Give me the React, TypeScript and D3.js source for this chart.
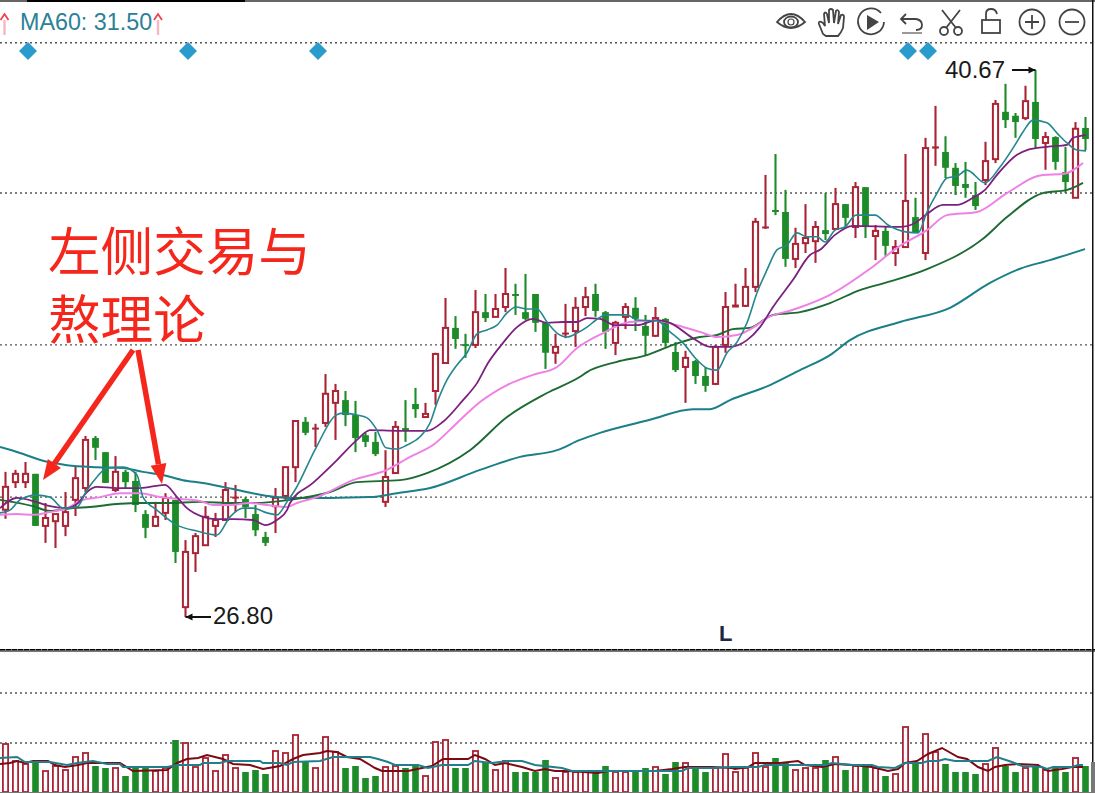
import React from "react";
import * as d3 from "d3";

const highs = [30.48,30.53,30.73,30.43,29.69,29.41,29.97,30.63,31.39,31.39,
30.98,30.88,30.53,30.48,29.51,29.72,29.94,29.77,28.75,28.93,
29.61,29.44,30.22,30.15,29.84,29.64,28.96,30.07,30.60,31.77,
31.87,31.70,32.96,32.71,32.53,32.28,31.47,31.49,31.03,31.77,
32.30,32.61,32.23,33.50,34.89,34.43,33.98,35.09,34.99,34.99,
35.65,35.25,35.50,34.99,34.26,33.98,34.74,34.91,35.17,35.25,
34.56,34.31,34.76,34.91,34.46,34.66,34.38,33.77,33.55,33.32,
33.14,33.70,35.04,35.25,35.65,36.92,38.01,38.54,37.63,36.67,
37.27,36.84,37.55,37.68,37.27,37.83,37.70,36.74,36.69,36.36,
38.54,37.43,38.95,39.76,38.99,38.31,38.34,37.83,38.85,39.91,
40.32,39.58,40.27,40.67,39.10,38.99,38.72,39.35,39.48];
const lows = [29.29,30.07,30.07,29.11,28.68,28.55,28.85,29.36,29.97,30.78,
30.20,29.97,30.07,29.46,28.80,29.08,29.26,28.17,26.80,27.94,
28.62,28.83,29.26,29.46,29.31,28.85,28.60,28.93,29.77,30.22,
31.41,31.11,31.62,31.29,31.64,30.98,31.11,30.88,29.59,30.45,
31.24,31.85,31.87,32.18,33.24,33.60,33.37,33.62,34.28,34.41,
34.53,34.46,34.33,34.03,33.09,33.22,33.87,33.65,34.43,34.41,
33.60,33.44,34.10,34.05,33.42,33.90,33.65,33.01,32.23,32.71,
32.51,32.68,33.50,34.66,34.66,35.04,36.64,36.99,35.68,35.65,
36.03,35.78,36.36,36.64,36.69,36.41,36.41,35.85,35.96,35.70,
36.18,36.54,35.85,38.24,37.93,37.50,37.43,37.12,37.75,38.31,
39.20,38.95,39.40,38.69,38.14,38.14,37.55,37.43,38.64];
const opens = [29.52,30.22,30.22,30.43,29.11,29.23,29.11,29.77,30.07,31.34,
30.98,30.02,30.48,30.25,29.41,29.11,29.44,29.77,27.05,28.42,
28.62,29.11,29.26,29.82,29.79,29.41,28.83,29.61,29.87,30.60,
31.75,31.57,31.72,32.23,32.30,31.92,31.41,31.24,29.72,30.45,
31.59,32.20,31.87,32.53,33.24,34.13,33.72,33.70,34.53,34.41,
34.66,34.99,34.53,34.99,34.26,33.50,33.98,34.05,34.66,34.99,
34.53,33.75,34.41,34.64,34.18,33.93,34.36,33.52,33.14,33.29,
32.91,32.71,33.70,34.66,34.69,35.17,36.67,37.12,37.07,35.88,
36.28,36.33,36.61,36.64,37.27,36.69,37.70,36.46,36.59,36.03,
36.18,36.94,36.03,38.69,38.59,38.19,37.78,37.50,37.88,38.41,
39.61,39.51,39.45,39.86,38.82,38.97,38.08,37.43,39.20];
const closes = [30.10,30.43,30.43,29.11,29.31,29.41,29.46,30.32,31.29,31.09,
30.20,30.48,30.22,29.64,29.06,29.34,29.82,28.45,28.45,28.85,
29.34,29.26,30.02,29.84,29.59,29.00,28.68,29.82,30.60,31.77,
31.47,31.59,32.46,32.53,31.92,31.34,31.24,30.93,30.35,31.62,
31.52,32.07,31.95,33.47,34.13,33.85,33.67,34.53,34.38,34.61,
34.99,34.97,34.36,34.26,33.50,33.65,34.00,34.64,34.91,34.56,
34.03,34.26,34.66,34.36,33.93,34.38,33.75,33.06,33.37,32.91,
32.66,33.65,34.66,34.71,35.17,36.82,36.69,37.07,35.88,36.26,
36.41,36.69,36.51,37.27,36.92,37.70,36.71,36.59,36.21,36.18,
37.35,36.54,38.69,38.72,38.19,37.73,37.68,37.22,38.36,39.81,
39.40,39.35,39.88,38.92,38.97,38.34,37.83,39.18,38.92];
const volumes = [48,31,28,29,21,26,22,35,39,26,24,24,16,24,24,21,24,52,49,25,
34,21,37,24,20,22,18,41,39,57,30,24,55,40,24,26,14,16,25,26,
24,27,16,50,52,24,24,41,30,22,31,20,20,20,32,14,20,20,20,19,
26,20,20,20,24,25,18,30,29,24,20,24,38,20,24,39,25,34,30,22,
24,24,32,35,22,26,26,24,16,18,65,29,58,40,28,20,20,18,28,44,
26,20,24,26,22,24,20,34,26];

const ma5Bars = [-0.55,0.45,1.45,3.05,4.45,5.75,7.15,8.15,9.15,10.15,11.75,13.15,13.75,15.15,17.15,19.15,21.15,22.45,23.75,24.75,26.15,27.15,28.15,28.95,31.05,33.05,33.75,35.15,36.15,37.15,38.05,39.15,40.15,41.45,42.45,43.15,44.15,45.15,46.15,47.15,48.15,49.15,50.15,51.05,52.15,53.15,54.15,55.15,56.15,57.15,58.15,59.05,60.05,62.15,63.15,65.15,66.45,67.75,69.15,70.15,71.15,72.15,73.15,74.15,75.15,76.15,77.15,78.15,79.15,80.15,81.15,81.95,82.95,83.95,85.05,86.95,88.25,90.15,91.25,92.15,93.15,94.15,95.15,96.15,97.95,99.45,100.95,101.75,102.75,104.15,105.15,106.15,107.15,108.05];
const ma5Values = [29.44,29.51,29.77,29.89,29.84,29.56,29.59,30.02,30.35,30.58,30.60,30.40,29.84,29.51,29.13,28.98,28.88,29.34,29.56,29.56,29.44,29.39,29.72,30.02,31.09,31.92,31.97,31.92,31.85,31.54,31.09,31.06,31.16,31.37,31.72,32.23,32.81,33.19,33.50,33.98,34.08,34.20,34.51,34.66,34.61,34.61,34.28,34.00,33.90,34.00,34.15,34.33,34.46,34.46,34.33,34.31,34.03,33.75,33.32,33.11,33.06,33.50,33.77,34.26,35.02,35.60,36.11,36.23,36.54,36.44,36.44,36.31,36.61,36.69,36.99,36.99,36.74,36.56,36.54,37.07,37.55,37.93,37.98,38.13,37.81,38.21,38.77,39.10,39.40,39.33,39.07,38.82,38.64,38.62];

const ma10Bars = [-0.55,1.15,3.05,4.45,6.15,7.25,8.15,9.15,11.15,13.45,15.95,17.15,18.15,19.75,21.15,22.75,24.75,25.95,27.15,28.15,28.45,30.75,33.15,35.15,36.45,39.15,42.15,43.75,45.75,47.15,48.25,49.75,51.15,52.75,54.15,55.75,57.15,58.15,59.45,60.95,63.15,65.15,66.45,68.75,70.45,72.45,74.15,75.45,76.75,78.75,80.45,81.45,82.95,84.75,89.45,90.95,92.15,93.75,95.15,96.75,97.95,99.15,101.15,102.15,104.15,106.15,106.75,108.05];
const ma10Values = [29.56,29.82,29.72,29.61,29.56,29.69,29.97,30.10,30.07,30.07,30.15,29.84,29.56,29.34,29.28,29.28,29.26,29.13,29.26,29.51,29.69,30.20,30.78,31.29,31.54,31.52,31.52,31.75,32.30,32.73,33.24,33.75,34.15,34.36,34.26,34.28,34.28,34.38,34.36,34.20,34.20,34.33,34.26,33.87,33.65,33.65,33.82,34.15,34.66,35.35,35.98,36.11,36.49,36.72,36.69,36.79,37.02,37.25,37.25,37.43,37.63,38.01,38.52,38.64,38.72,38.77,38.95,39.02];

const ma20Bars = [-0.55,1.15,2.75,4.45,6.15,7.75,9.45,11.45,13.45,15.45,17.45,19.45,20.75,22.45,24.45,26.15,28.15,29.15,31.15,34.75,38.15,40.45,42.75,45.15,47.45,50.15,52.75,55.15,57.15,59.75,62.45,65.15,67.15,69.45,71.15,73.15,75.15,76.15,78.75,82.45,86.45,89.15,92.15,94.15,97.15,100.15,103.75,105.75,107.75];
const ma20Values = [29.39,29.41,29.39,29.46,29.56,29.77,29.84,29.94,29.94,29.84,29.79,29.74,29.64,29.64,29.69,29.64,29.59,29.69,29.84,30.27,30.53,30.86,31.16,31.72,32.25,32.68,32.94,33.14,33.62,34.00,34.28,34.31,34.20,34.03,33.90,33.95,34.20,34.38,34.59,34.97,35.63,36.16,36.61,36.99,37.07,37.55,38.01,38.03,38.31];

const ma30Bars = [-0.55,2.75,4.45,6.75,8.45,11.45,13.45,16.15,19.45,22.75,24.75,28.45,32.45,35.15,39.45,42.15,46.45,50.15,54.15,57.45,58.15,61.15,64.15,66.75,69.45,71.15,72.75,74.45,76.75,79.45,82.45,85.45,87.95,92.15,97.75,100.15,103.75,106.15,107.75];
const ma30Values = [29.77,29.61,29.49,29.56,29.59,29.67,29.69,29.69,29.72,29.69,29.69,29.77,29.97,30.22,30.27,30.45,31.03,31.87,32.48,32.89,33.01,33.27,33.44,33.70,33.90,33.95,34.10,34.13,34.46,34.53,34.76,35.09,35.27,35.62,36.39,36.94,37.55,37.63,37.81];

const ma60Bars = [-0.55,1.45,3.75,6.15,9.15,11.75,13.75,15.75,17.75,19.75,21.75,23.75,26.15,28.15,32.45,36.45,39.15,42.45,47.45,51.45,55.15,57.45,59.45,64.45,68.75,70.45,72.45,76.45,79.45,82.45,84.45,89.45,94.45,98.45,101.45,104.45,107.95];
const ma60Values = [31.11,30.96,30.76,30.65,30.60,30.58,30.48,30.40,30.27,30.20,30.10,29.99,29.87,29.82,29.82,29.84,29.94,30.07,30.53,30.86,31.03,31.29,31.47,31.80,32.07,32.07,32.30,32.68,33.06,33.44,33.82,34.28,34.64,35.27,35.63,35.85,36.13];

const volFastBars = [-0.55,0.45,1.15,1.95,2.75,4.25,4.95,5.95,7.25,8.15,9.75,11.45,12.75,16.15,17.15,18.15,19.25,20.15,21.75,22.75,24.45,25.75,27.45,28.75,29.75,31.45,32.15,33.15,34.15,35.45,36.45,36.95,37.65,40.25,41.65,42.65,43.75,46.25,46.95,47.95,48.95,49.95,51.65,52.95,53.95,54.95,56.25,59.25,60.25,64.95,66.65,67.95,69.25,70.65,72.65,72.95,74.25,74.95,77.45,79.25,79.95,81.65,82.95,84.65,86.65,88.25,89.25,89.95,91.15,92.25,93.65,95.25,96.15,97.25,98.25,98.95,99.95,101.25,103.25,104.25,105.65,106.65,107.75];
const volFastValues = [28,29,31,29,31,31,27,25,27,29,29,29,21,22,29,33,34,37,33,28,27,23,26,33,37,39,41,40,35,33,27,24,21,21,24,26,33,33,37,33,27,29,25,21,23,21,21,19,21,21,23,25,25,25,24,23,25,29,29,31,27,25,28,27,25,21,23,29,31,38,44,35,33,25,21,25,27,28,27,21,23,25,25];
const volSlowBars = [-0.55,1.15,1.95,4.45,6.15,7.15,8.75,10.15,11.45,11.75,16.15,17.15,19.45,19.75,21.45,22.15,25.45,25.75,27.45,28.15,28.75,31.45,32.75,36.45,37.25,38.25,38.95,41.25,42.25,43.65,46.25,46.95,48.65,50.25,51.65,52.95,55.65,56.65,64.65,67.65,68.25,70.65,72.65,75.25,75.95,81.95,82.65,84.65,86.65,87.25,88.95,89.95,91.65,92.25,93.25,93.95,94.95,98.25,99.15,100.65,101.65,103.65,104.15,104.75,106.65,107.25,107.75];
const volSlowValues = [34,35,30,30,27,29,31,28,28,25,25,27,27,29,29,31,31,29,29,27,30,31,35,35,33,30,27,27,24,27,27,31,29,31,31,27,24,21,21,21,24,24,25,25,27,27,29,27,27,25,24,29,29,31,31,33,31,31,35,30,26,25,23,25,25,27,27];

const priceTicks = [41.36, 37.55, 33.7, 29.84];
const volumeTicks = [99, 49];
const signalBars = [2.25, 18.25, 31.25, 90.25, 92.25];
const highLabel = "40.67";
const lowLabel = "26.80";
const legendLabel = "MA60: 31.50";
const noteLines = ["左侧交易与", "熬理论"];

const RED = "#ab2436";
const GREEN = "#1d8c28";
const ICON = "#444";
const SANS = "'Liberation Sans', Arial, sans-serif";

const x = d3.scaleLinear().domain([0, 108]).range([5.5, 1085.5]);
const y = d3.scaleLinear().domain([26.8, 40.67]).range([617, 70]);
const vy = d3.scaleLinear().domain([0, 100]).range([792, 692]);

function maPath(bars: number[], values: number[], scale: (v: number) => number, smooth = false) {
  const gen = d3.line<number>().x((_, i) => x(bars[i])).y((v) => scale(v));
  if (smooth) gen.curve(d3.curveMonotoneX);
  return gen(values) || "";
}

const priceLines = [
  { bars: ma60Bars, values: ma60Values, color: "#1b7f88", w: 2 },
  { bars: ma30Bars, values: ma30Values, color: "#1c6b32", w: 1.9 },
  { bars: ma20Bars, values: ma20Values, color: "#ee80e6", w: 2 },
  { bars: ma10Bars, values: ma10Values, color: "#7c2080", w: 1.8 },
  { bars: ma5Bars, values: ma5Values, color: "#24868e", w: 1.6 },
];

function UpArrow({ cx }: { cx: number }) {
  return (
    <g>
      <line x1={cx} x2={cx} y1={20} y2={35} stroke="#f8b6bf" strokeWidth={2.4} />
      <path d={`M${cx - 4},20 L${cx},14 L${cx + 4},20`} fill="none" stroke="#f0404c" strokeWidth={1.8} />
    </g>
  );
}

function Toolbar() {
  const s = { fill: "none", stroke: ICON, strokeWidth: 1.8 };
  return (
    <g>
      <g {...s}>
        <path d="M777,22 Q791,6 805,22 Q791,34 777,22 Z" />
        <ellipse cx={791} cy={22} rx={7} ry={5.5} />
        <circle cx={791} cy={22} r={3} strokeWidth={1.2} />
      </g>
      <path {...s} d="M823,34 L819,24 Q818,20 823,23 L825,26 L824,14 Q825,11 827,14 L829,23 L829,10 Q831,8 833,10 L834,23 L836,11 Q838,9 839,12 L838,24 L841,15 Q844,14 844,17 L843,28 Q841,33 838,36 L826,36 Z" />
      <path {...s} d="M881,13 A13,13 0 1 0 884,22" />
      <path fill={ICON} d="M867,15 L879,22 L867,30 Z" />
      <path {...s} d="M906,14 L901,19 L906,24 M901,19 L916,19 Q922,20 922,25 Q922,30 916,30" />
      <rect x={902} y={32} width={20} height={2} fill="#999" />
      <g {...s}>
        <path d="M942,10 L956,28 M960,10 L946,28" />
        <circle cx={944} cy={31} r={4} />
        <circle cx={958} cy={31} r={4} />
      </g>
      <g {...s}>
        <rect x={982} y={20} width={18} height={13} />
        <path d="M986,20 L986,14 Q986,9 991,9 Q996,9 997,14" />
      </g>
      <g {...s}>
        <circle cx={1032} cy={22} r={12.5} />
        <path d="M1025,22 H1039 M1032,15 V29" />
        <circle cx={1072} cy={22} r={12.5} />
        <path d="M1065,22 H1079" />
      </g>
    </g>
  );
}

function BigArrow({ x1, y1, x2, y2 }: { x1: number; y1: number; x2: number; y2: number }) {
  const a = Math.atan2(y2 - y1, x2 - x1);
  const back = 20;
  const bx = x2 - back * Math.cos(a);
  const by = y2 - back * Math.sin(a);
  const nx = -Math.sin(a);
  const ny = Math.cos(a);
  return (
    <g>
      <line x1={x1} y1={y1} x2={bx} y2={by} stroke="#f5261b" strokeWidth={5.5} />
      <path d={`M${x2},${y2} L${bx + nx * 8},${by + ny * 8} L${bx - nx * 8},${by - ny * 8} Z`} fill="#f5261b" />
    </g>
  );
}

export default function App() {
  return (
    <svg width={1095} height={793} viewBox="0 0 1095 793" style={{ position: "absolute", left: 0, top: 0, display: "block", background: "#fff" }}>
      <defs>
        <clipPath id="plot"><rect x={0} y={0} width={1092} height={793} /></clipPath>
      </defs>
      <rect x={0} y={0} width={1095} height={793} fill="#fff" />
      <rect x={0} y={0} width={1095} height={2} fill="#666" />
      <rect x={27} y={0} width={218} height={2} fill="#000" />

      {priceTicks.map((t) => (
        <line key={t} x1={0} x2={1092} y1={y(t)} y2={y(t)} stroke="#555" strokeWidth={1.4} strokeDasharray="2 3" />
      ))}
      {volumeTicks.map((t) => (
        <line key={t} x1={0} x2={1092} y1={vy(t)} y2={vy(t)} stroke="#555" strokeWidth={1.4} strokeDasharray="2 3" />
      ))}

      <g clipPath="url(#plot)">
        {volumes.map((v, i) => {
          const up = closes[i] >= opens[i];
          const top = vy(v);
          return up ? (
            <rect key={i} x={x(i) - 2.6} y={top} width={5.2} height={792 - top} fill="#fff" stroke={RED} strokeWidth={1.8} />
          ) : (
            <rect key={i} x={x(i) - 3.3} y={top} width={6.6} height={792 - top} fill={GREEN} />
          );
        })}
        <path d={maPath(volFastBars, volFastValues, vy)} fill="none" stroke="#7a0a14" strokeWidth={2} />
        <path d={maPath(volSlowBars, volSlowValues, vy)} fill="none" stroke="#1f7f8a" strokeWidth={2} />

        {highs.map((h, i) => {
          const up = closes[i] >= opens[i];
          const color = up ? RED : GREEN;
          const top = y(Math.max(opens[i], closes[i]));
          const bottom = y(Math.min(opens[i], closes[i]));
          const cx = x(i);
          return (
            <g key={i}>
              <line x1={cx} x2={cx} y1={y(h)} y2={y(lows[i])} stroke={color} strokeWidth={2.1} />
              {up ? (
                bottom - top < 3 ? (
                  <rect x={cx - 3.4} y={top - 0.5} width={6.8} height={Math.max(2, bottom - top + 1)} fill={color} />
                ) : (
                  <rect x={cx - 2.6} y={top} width={5.2} height={bottom - top} fill="#fff" stroke={color} strokeWidth={2} />
                )
              ) : (
                <rect x={cx - 3.4} y={top} width={6.8} height={Math.max(2, bottom - top)} fill={color} />
              )}
            </g>
          );
        })}
        {priceLines.map((l) => (
          <path key={l.color} d={maPath(l.bars, l.values, y, true)} fill="none" stroke={l.color} strokeWidth={l.w} />
        ))}
      </g>

      {signalBars.map((b) => {
        const cx = x(b);
        return <path key={b} d={`M${cx},42 L${cx + 9},51 L${cx},60 L${cx - 9},51 Z`} fill="#2a9ccb" />;
      })}

      <UpArrow cx={4.5} />
      <text x={20} y={30} fontFamily={SANS} fontSize={23.3} fill="#2b8196">{legendLabel}</text>
      <UpArrow cx={158} />
      <Toolbar />

      <text x={945} y={78} fontFamily={SANS} fontSize={24} fill="#1a1a1a">{highLabel}</text>
      <line x1={1012} x2={x(103)} y1={y(40.67)} y2={y(40.67)} stroke="#111" strokeWidth={2} />
      <path d={`M${x(103)},${y(40.67)} l-7,-3.5 l0,7 Z`} fill="#111" />

      <text x={213} y={624} fontFamily={SANS} fontSize={24} fill="#1a1a1a">{lowLabel}</text>
      <line x1={x(18)} x2={211} y1={y(26.8)} y2={y(26.8)} stroke="#111" strokeWidth={2} />
      <path d={`M${x(18)},${y(26.8)} l7,-3.5 l0,7 Z`} fill="#111" />

      <text x={719} y={641} fontFamily={SANS} fontSize={22} fontWeight="bold" fill="#1a2a44">L</text>

      <text fontFamily="'Noto Sans CJK SC', sans-serif" fontSize={52.6} fill="#f5261b">
        <tspan x={48} y={271}>{noteLines[0]}</tspan>
        <tspan x={48} y={339}>{noteLines[1]}</tspan>
      </text>
      <BigArrow x1={133} y1={350} x2={43} y2={480} />
      <BigArrow x1={138} y1={350} x2={162} y2={484} />

      <rect x={0} y={649} width={1095} height={3} fill="#777" />
      <line x1={0} x2={1095} y1={649.6} y2={649.6} stroke="#000" strokeWidth={1.3} strokeDasharray="5 1" />
      <rect x={1092} y={0} width={1.5} height={762} fill="#111" />
      <rect x={1091} y={762} width={4} height={31} fill="#777" />
      <rect x={0} y={792} width={1095} height={1} fill="#777" />
    </svg>
  );
}
